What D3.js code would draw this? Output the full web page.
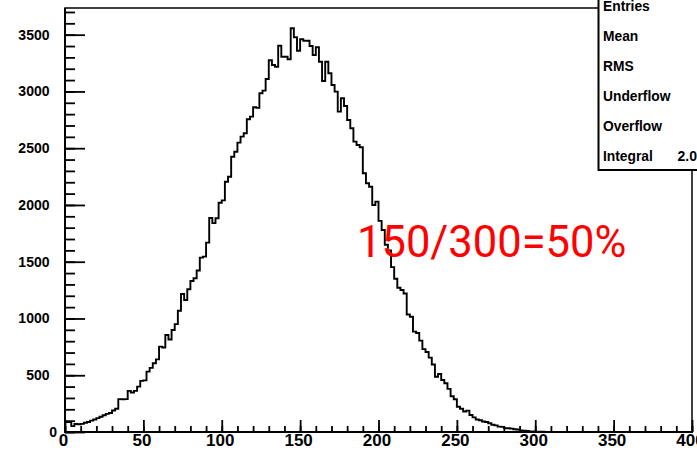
<!DOCTYPE html>
<html>
<head>
<meta charset="utf-8">
<script src="https://cdn.jsdelivr.net/npm/d3@7"></script>
<style>
  body { margin: 0; background: #fff; }
  svg { display: block; }
</style>
</head>
<body>
<svg id="chart"></svg>
<script>
// histogram: 200 bins of width 2 over [0, 400]; bins after the last value are empty
var binWidth = 2;
var counts = [
  88, 88, 52, 70, 68, 72, 82, 88, 100, 110,
  122, 135, 148, 160, 168, 190, 205, 290, 288, 290,
  362, 348, 362, 400, 450, 455, 532, 565, 605, 640,
  752, 745, 855, 815, 898, 950, 1068, 1216, 1163, 1257,
  1330, 1354, 1422, 1536, 1545, 1668, 1885, 1840, 1883, 2020,
  2040, 2205, 2249, 2425, 2469, 2549, 2602, 2632, 2755, 2778,
  2861, 2855, 2984, 3007, 3110, 3275, 3233, 3218, 3403, 3306,
  3306, 3283, 3556, 3477, 3359, 3460, 3447, 3447, 3400, 3321,
  3389, 3262, 3092, 3262, 3160, 3057, 2998, 2822, 2940, 2872,
  2749, 2676, 2558, 2528, 2508, 2279, 2191, 2160, 2000, 2029,
  1860, 1780, 1650, 1600, 1452, 1350, 1271, 1251, 1220, 1035,
  1015, 884, 872, 805, 730, 705, 655, 595, 487, 511,
  458, 429, 380, 315, 288, 223, 205, 180, 188, 150,
  129, 110, 104, 92, 88, 77, 64, 58, 47, 45,
  34, 33, 30, 24, 22, 14, 12, 10, 5, 4,
  3, 2, 2, 1, 1, 0
];
var xRange = [0, 400];
var yMax = 3735;
var xMajor = [0, 50, 100, 150, 200, 250, 300, 350, 400];
var xMinor = d3.range(0, 401, 10);
var yMajor = [0, 500, 1000, 1500, 2000, 2500, 3000, 3500];
var yMinor = d3.range(0, 3701, 100);
var statNames = ["Entries", "Mean", "RMS", "Underflow", "Overflow", "Integral"];
var statValues = ["", "", "", "", "", "2.000000e+05"];
var note = "150/300=50%";

var W = 697, H = 458;
var frame = {left: 65, right: 692, top: 8, bottom: 432};

var svg = d3.select("#chart").attr("width", W).attr("height", H);

var x = d3.scaleLinear().domain(xRange).range([frame.left, frame.right]);
var y = d3.scaleLinear().domain([0, yMax]).range([frame.bottom, frame.top]);

// frame
svg.append("rect")
  .attr("x", frame.left).attr("y", frame.top)
  .attr("width", frame.right - frame.left).attr("height", frame.bottom - frame.top)
  .attr("fill", "none").attr("stroke", "#000").attr("stroke-width", 1.5);

// histogram as steps
var pts = [[0, 0]];
counts.forEach(function(c, i) { pts.push([i * binWidth, c]); });
pts.push([counts.length * binWidth, 0]);
pts.push([xRange[1], 0]);

var step = d3.line()
  .x(function(d) { return x(d[0]); })
  .y(function(d) { return y(d[1]); })
  .curve(d3.curveStepAfter);

svg.append("path")
  .attr("d", step(pts))
  .attr("fill", "none")
  .attr("stroke", "#000")
  .attr("stroke-width", 1.9);

// y axis
var yAx = svg.append("g").attr("transform", "translate(" + frame.left + ",0)")
  .call(d3.axisLeft(y).tickValues(yMajor).tickFormat(d3.format("d"))
    .tickSize(-20).tickSizeOuter(0).tickPadding(15.5));
svg.append("g").attr("transform", "translate(" + frame.left + ",0)")
  .call(d3.axisLeft(y).tickValues(yMinor).tickSize(-10).tickSizeOuter(0).tickFormat(""))
  .select(".domain").remove();
yAx.select(".domain").remove();
yAx.selectAll("text")
  .attr("font-family", "'Liberation Sans', Arial, sans-serif")
  .attr("font-weight", "bold").attr("font-size", 14).attr("fill", "#000")
  .filter(function(d) { return d === 0; }).attr("x", -8);

// x axis
var xAx = svg.append("g").attr("transform", "translate(0," + frame.bottom + ")")
  .call(d3.axisBottom(x).tickValues(xMajor).tickFormat(d3.format("d"))
    .tickSize(-12).tickSizeOuter(0).tickPadding(1.5));
svg.append("g").attr("transform", "translate(0," + frame.bottom + ")")
  .call(d3.axisBottom(x).tickValues(xMinor).tickSize(-6).tickSizeOuter(0).tickFormat(""))
  .select(".domain").remove();
xAx.select(".domain").remove();
xAx.selectAll("text")
  .attr("font-family", "'Liberation Sans', Arial, sans-serif")
  .attr("font-weight", "bold").attr("font-size", 17).attr("fill", "#000")
  .attr("dx", -2);

svg.selectAll(".tick line").attr("stroke", "#000").attr("stroke-width", 1.8);

// axis lines
svg.append("line").attr("x1", frame.left).attr("x2", frame.left)
  .attr("y1", frame.top).attr("y2", frame.bottom + 1)
  .attr("stroke", "#000").attr("stroke-width", 2);
svg.append("line").attr("x1", frame.left - 1).attr("x2", frame.right + 1)
  .attr("y1", frame.bottom).attr("y2", frame.bottom)
  .attr("stroke", "#000").attr("stroke-width", 2);

// stats box (cut by the page edge)
var sb = svg.append("g");
sb.append("rect")
  .attr("x", 598.5).attr("y", -20).attr("width", 140).attr("height", 190)
  .attr("fill", "#fff").attr("stroke", "#000").attr("stroke-width", 2);
sb.selectAll("text.name").data(statNames).enter().append("text")
  .attr("class", "name")
  .attr("x", 603).attr("y", function(d, i) { return 10.5 + i * 30.1; })
  .attr("font-family", "'Liberation Sans', Arial, sans-serif")
  .attr("font-weight", "bold").attr("font-size", 13.8)
  .text(function(d) { return d; });
sb.selectAll("text.val").data(statValues).enter().append("text")
  .attr("class", "val")
  .attr("x", 677.5).attr("y", function(d, i) { return 10.5 + i * 30.1; })
  .attr("font-family", "'Liberation Sans', Arial, sans-serif")
  .attr("font-weight", "bold").attr("font-size", 14)
  .text(function(d) { return d; });

// red annotation
svg.append("text")
  .attr("x", 357).attr("y", 257)
  .attr("font-family", "Roboto, 'Liberation Sans', sans-serif")
  .attr("font-size", 43.5).attr("fill", "#ff0000")
  .text(note);
</script>
</body>
</html>
